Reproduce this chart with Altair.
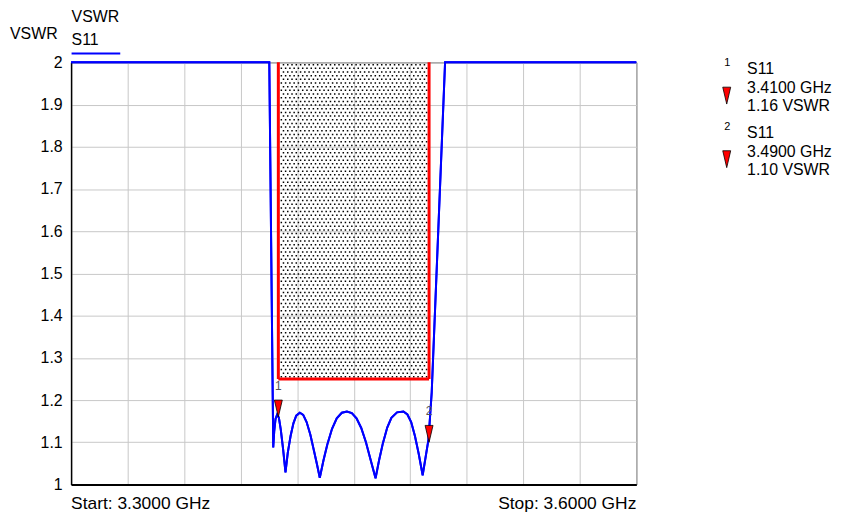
import altair as alt
import pandas as pd
import numpy as np

# ---------------- data ----------------
freq_ghz = [3.3000, 3.4052, 3.4070, 3.4073, 3.4078, 3.4085, 3.4094, 3.4103, 3.4113,
            3.4125, 3.4138, 3.4150, 3.4165, 3.4180, 3.4195, 3.4214, 3.4232, 3.4250,
            3.4270, 3.4290, 3.4305, 3.4320, 3.4340, 3.4360, 3.4385, 3.4410, 3.4437,
            3.4464, 3.4490, 3.4515, 3.4540, 3.4565, 3.4590, 3.4616, 3.4635, 3.4655,
            3.4678, 3.4700, 3.4730, 3.4764, 3.4785, 3.4805, 3.4825, 3.4845, 3.4866,
            3.4897, 3.4914, 3.4985, 3.6000]
vswr = [2.000, 2.000, 1.218, 1.088, 1.125, 1.155, 1.166, 1.158, 1.130,
        1.085, 1.029, 1.075, 1.115, 1.145, 1.163, 1.170, 1.165, 1.148,
        1.118, 1.078, 1.048, 1.016, 1.058, 1.095, 1.132, 1.157, 1.170,
        1.173, 1.169, 1.157, 1.134, 1.100, 1.058, 1.015, 1.058, 1.098,
        1.135, 1.158, 1.171, 1.173, 1.166, 1.148, 1.115, 1.073, 1.022,
        1.107, 1.218, 2.000, 2.000]

x_min, x_max = 3.30, 3.60
y_min, y_max = 1.0, 2.0
x_ticks = [3.30, 3.33, 3.36, 3.39, 3.42, 3.45, 3.48, 3.51, 3.54, 3.57, 3.60]
y_ticks = [1.0, 1.1, 1.2, 1.3, 1.4, 1.5, 1.6, 1.7, 1.8, 1.9, 2.0]

mask_lo, mask_hi, mask_level = 3.41, 3.49, 1.25

marker_ids = [1, 2]
marker_freq = [3.41, 3.49]
marker_vswr = [1.16, 1.10]

trace_name = "S11"
unit = "VSWR"

# ---------------- styling ----------------
W, H = 569, 425
FONT = "Liberation Sans"
FS = 16
BLUE = "#0000ff"
RED = "#ff0000"
TRI = "M -1 -4.25 L 1 -4.25 L 0 0 Z"

xs = alt.Scale(domain=[x_min, x_max], nice=False, zero=False)
ys = alt.Scale(domain=[y_min, y_max], nice=False, zero=False)

df_curve = pd.DataFrame({"f": freq_ghz, "v": vswr})

axes_layer = alt.Chart(df_curve).mark_line(color=BLUE, strokeWidth=2, clip=False).encode(
    x=alt.X("f:Q", scale=xs,
            axis=alt.Axis(values=x_ticks, labels=False, ticks=False, title=None,
                          grid=True, gridColor="#c8c8c8", gridWidth=1,
                          domainColor="#000000", domainWidth=2)),
    y=alt.Y("v:Q", scale=ys,
            axis=alt.Axis(values=y_ticks, format=".1~f", ticks=False, title=None,
                          grid=True, gridColor="#c8c8c8", gridWidth=1,
                          domainColor="#000000", domainWidth=1.5,
                          labelFont=FONT, labelFontSize=FS, labelColor="#000000",
                          labelPadding=9)),
    order=alt.Order("f:Q"),
)

# dotted texture inside the limit mask
tex_rows = np.round(np.arange(mask_level + 0.005, y_max - 0.002, 0.0087), 4)
df_tex_a = pd.DataFrame({"y": tex_rows[0::2], "x": mask_lo + 0.0012, "x2": mask_hi - 0.0008})
df_tex_b = pd.DataFrame({"y": tex_rows[1::2], "x": mask_lo + 0.0012, "x2": mask_hi - 0.0008})
tex_a = alt.Chart(df_tex_a).mark_rule(color="#000000", strokeWidth=1.5, strokeDash=[1.5, 2.8]).encode(
    x=alt.X("x:Q", scale=xs, axis=None), x2="x2:Q", y=alt.Y("y:Q", scale=ys, axis=None))
tex_b = alt.Chart(df_tex_b).mark_rule(color="#000000", strokeWidth=1.5, strokeDash=[1.5, 2.8],
                                      strokeDashOffset=2.15).encode(
    x=alt.X("x:Q", scale=xs, axis=None), x2="x2:Q", y=alt.Y("y:Q", scale=ys, axis=None))

# red limit box (left, right, bottom)
df_mask_v = pd.DataFrame({"x": [mask_lo, mask_hi], "y": [mask_level, mask_level], "y2": [y_max, y_max]})
mask_v = alt.Chart(df_mask_v).mark_rule(color=RED, strokeWidth=3).encode(
    x=alt.X("x:Q", scale=xs, axis=None), y=alt.Y("y:Q", scale=ys, axis=None), y2="y2:Q")
df_mask_h = pd.DataFrame({"x": [mask_lo], "x2": [mask_hi], "y": [mask_level]})
mask_h = alt.Chart(df_mask_h).mark_rule(color=RED, strokeWidth=3).encode(
    x=alt.X("x:Q", scale=xs, axis=None), x2="x2:Q", y=alt.Y("y:Q", scale=ys, axis=None))

curve = alt.Chart(df_curve).mark_line(color=BLUE, strokeWidth=2, clip=False).encode(
    x=alt.X("f:Q", scale=xs, axis=None), y=alt.Y("v:Q", scale=ys, axis=None),
    order=alt.Order("f:Q"))

# markers on the trace
df_mk = pd.DataFrame({"f": marker_freq, "v": marker_vswr, "id": [str(i) for i in marker_ids]})
mk_pts = alt.Chart(df_mk).mark_point(shape=TRI, size=64, filled=True, fill=RED, stroke="#000000",
                                     strokeWidth=0.8, opacity=1).encode(
    x=alt.X("f:Q", scale=xs, axis=None), y=alt.Y("v:Q", scale=ys, axis=None))
mk_lbl = alt.Chart(df_mk).mark_text(font=FONT, fontSize=12, color="#555555", dy=-31).encode(
    x=alt.X("f:Q", scale=xs, axis=None), y=alt.Y("v:Q", scale=ys, axis=None), text="id:N")

# marker legend on the right
leg_rows = []
leg_tri = []
for k, (i, f, v) in enumerate(zip(marker_ids, marker_freq, marker_vswr)):
    off = 64 * k
    leg_rows.append({"px": 660.5, "py": 1 + off, "t": str(i), "a": "center"})
    leg_rows.append({"px": 680.5, "py": 7 + off, "t": trace_name, "a": "left"})
    leg_rows.append({"px": 680.5, "py": 26 + off, "t": f"{f:.4f} GHz", "a": "left"})
    leg_rows.append({"px": 680.5, "py": 44 + off, "t": f"{v:.2f} {unit}", "a": "left"})
    leg_tri.append({"px": 660, "py": 42 + off})

df_leg = pd.DataFrame(leg_rows)
leg_txt_l = alt.Chart(df_leg[df_leg["a"] == "left"]).mark_text(
    font=FONT, fontSize=FS, color="#000000", align="left", baseline="middle").encode(
    x=alt.X("px:Q", scale=None, axis=None), y=alt.Y("py:Q", scale=None, axis=None), text="t:N")
leg_txt_c = alt.Chart(df_leg[df_leg["a"] == "center"]).mark_text(
    font=FONT, fontSize=11, color="#000000", align="center", baseline="middle").encode(
    x=alt.X("px:Q", scale=None, axis=None), y=alt.Y("py:Q", scale=None, axis=None), text="t:N")
leg_tri_m = alt.Chart(pd.DataFrame(leg_tri)).mark_point(
    shape=TRI, size=64, filled=True, fill=RED, stroke="#000000", strokeWidth=0.8, opacity=1).encode(
    x=alt.X("px:Q", scale=None, axis=None), y=alt.Y("py:Q", scale=None, axis=None))

# trace legend and axis captions
df_cap = pd.DataFrame([
    {"px": 0.5, "py": -46, "t": unit},
    {"px": -61.5, "py": -28, "t": unit},
    {"px": 0.5, "py": -22, "t": trace_name},
])
caps = alt.Chart(df_cap).mark_text(font=FONT, fontSize=FS, color="#000000", align="left",
                                   baseline="middle").encode(
    x=alt.X("px:Q", scale=None, axis=None), y=alt.Y("py:Q", scale=None, axis=None), text="t:N")

# start / stop captions
df_start = pd.DataFrame([{"px": 0, "py": 445, "t": f"Start: {x_min:.4f} GHz"}])
start = alt.Chart(df_start).mark_text(font=FONT, fontSize=17.5, color="#000000", align="left",
                                      baseline="middle").encode(
    x=alt.X("px:Q", scale=None, axis=None), y=alt.Y("py:Q", scale=None, axis=None), text="t:N")
df_stop = pd.DataFrame([{"px": W, "py": 445, "t": f"Stop: {x_max:.4f} GHz"}])
stop = alt.Chart(df_stop).mark_text(font=FONT, fontSize=17.5, color="#000000", align="right",
                                    baseline="middle").encode(
    x=alt.X("px:Q", scale=None, axis=None), y=alt.Y("py:Q", scale=None, axis=None), text="t:N")

trace_key = alt.Chart(pd.DataFrame({"a": [0.5], "b": [49.5], "c": [-9]})).mark_rule(
    color=BLUE, strokeWidth=2).encode(
    x=alt.X("a:Q", scale=None, axis=None), x2="b:Q", y=alt.Y("c:Q", scale=None, axis=None))

chart = alt.layer(
    axes_layer, tex_a, tex_b, mask_v, mask_h, curve, mk_pts, mk_lbl,
    leg_txt_l, leg_txt_c, leg_tri_m, caps, start, stop, trace_key,
).resolve_scale(x="independent", y="independent").properties(
    width=W, height=H,
    autosize=alt.AutoSizeParams(type="none"),
    padding={"left": 63.5, "top": 53, "right": 200, "bottom": 30},
    background="#ffffff",
).configure_view(stroke="#333333", strokeWidth=1)

chart.save("out.html", embed_options={"renderer": "svg", "actions": False})
